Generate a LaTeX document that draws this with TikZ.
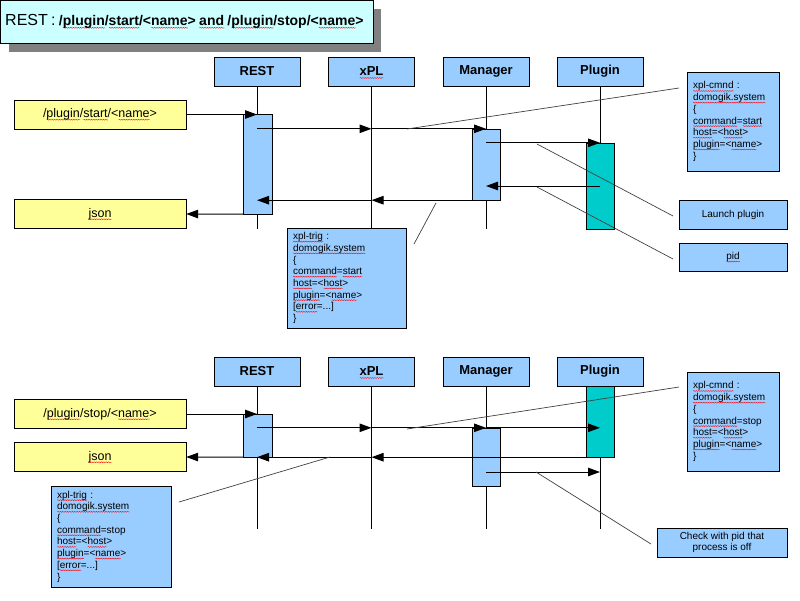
\documentclass[tikz,border=0pt]{standalone}
\usepackage{fontspec}
\setmainfont{Liberation Sans}
\usetikzlibrary{arrows.meta,decorations.pathmorphing}
\definecolor{lblue}{HTML}{99CCFF}
\definecolor{lyellow}{HTML}{FFFF99}
\definecolor{plugcyan}{HTML}{00CCCC}
\definecolor{titlecyan}{HTML}{CCFFFF}
% red spell-check wave under a word
\newsavebox\sqbox
\newlength\sqwd
\newcommand\sq[1]{\sbox\sqbox{#1}\setlength\sqwd{\wd\sqbox}\leavevmode\rlap{\raisebox{-2pt}[0pt][0pt]{\tikz[baseline=0pt]\draw[draw=red,fill=none,line width=0.4pt,decorate,decoration={snake,amplitude=0.45pt,segment length=2.4pt}] (0pt,0pt) -- (\sqwd,0pt);}}\usebox\sqbox}
\tikzset{
	head/.style={draw, fill=lblue, minimum width=86, minimum height=29, inner sep=0, font=\fontsize{13}{15}\selectfont\bfseries},
	act/.style={draw, fill=lblue, minimum width=29, inner sep=0},
	plugact/.style={draw, fill=plugcyan, minimum width=28, inner sep=0},
	call/.style={draw, fill=lyellow, minimum width=172, minimum height=29, inner sep=0, font=\fontsize{12.5}{14}\selectfont},
	note/.style={draw, fill=lblue, inner xsep=6, inner ysep=3, align=left, font=\fontsize{10}{11.7}\selectfont},
	info/.style={draw, fill=lblue, minimum width=108, minimum height=29, inner sep=0, align=center, font=\fontsize{10}{11.5}\selectfont},
	life/.style={line width=1pt},
	msg/.style={line width=1pt, -{Triangle[length=12pt,width=8.5pt]}},
	callout/.style={black!75, line width=0.7pt}
}
\begin{document}
\begin{tikzpicture}[x=1pt,y=-1pt]
		\useasboundingbox (0,0) rectangle (800,600);
		% title
		\fill[black!50] (9,9) rectangle (381,52);
		\node[draw, fill=titlecyan, anchor=north west, minimum height=43, text width=363, inner xsep=5, align=left] (title) at (0,0)
		{{\fontsize{16}{18}\selectfont REST :} {\fontsize{14}{16}\selectfont\bfseries /\sq{plugin}/\sq{start}/<\sq{name}> \sq{and} /\sq{plugin}/stop/<\sq{name}>}};
		%
		% ---------- start ----------
		\node[head] (rest1) at (257,71.5) {REST};
		\node[head] (xpl1) at (371.5,71.5) {\sq{xPL}};
		\node[head] (mgr1) at (486,71.5) {Manager};
		\node[head] (plug1) at (600,71.5) {Plugin};
		\coordinate (end1) at (0,229);
		% lifelines
		\draw[life] (rest1.south) -- (rest1 |- end1);
		\draw[life] (xpl1.south) -- (xpl1 |- end1);
		\draw[life] (mgr1.south) -- (mgr1 |- end1);
		\draw[life] (plug1.south) -- (plug1 |- end1);
		% activations
		\node[act, minimum height=100] (restact1) at (257.5,164) {};
		\node[act, minimum height=71, minimum width=28] (mgract1) at (486,164.5) {};
		\node[plugact, minimum height=86] (plugact1) at (600,186) {};
		% calls
		\node[call] (in1) at (100,114.5) {/\sq{plugin}/\sq{start}/<\sq{name}>};
		\node[call] (json1) at (100,214) {\sq{json}};
		% messages
		\draw[msg] (in1.east) -- (in1.east -| rest1);
		\draw[msg] (rest1 |- mgract1.north) -- (xpl1 |- mgract1.north);
		\draw[msg] (xpl1 |- mgract1.north) -- (mgract1.north);
		\draw[msg] (plugact1.north -| mgr1) -- (plugact1.north);
		\draw[msg] (plugact1.center) -- (plugact1 -| mgr1);
		\draw[msg] (mgract1.south west) -- (mgract1.south -| xpl1);
		\draw[msg] (mgract1.south -| xpl1) -- (mgract1.south -| rest1);
		\draw[msg] (restact1.south west) -- (json1.east);
		% notes
		\node[note, text width=80, minimum height=99] (cmnd1) at (733,121.5)
		{\sq{xpl-cmnd} :\\ \sq{domogik.system}\\ \{\\ \sq{command}=\sq{start}\\ \sq{host}=<\sq{host}>\\ \sq{plugin}=<\sq{name}>\\ \}};
		\node[note, text width=107, minimum height=100] (trig1) at (346.5,278)
		{\sq{xpl-trig} :\\ \sq{domogik.system}\\ \{\\ \sq{command}=\sq{start}\\ \sq{host}=<\sq{host}>\\ \sq{plugin}=<\sq{name}>\\ {[}\sq{error}=...]\\ \}};
		\node[info] (launch) at (733,214.5) {Launch plugin};
		\node[info, minimum height=28] (pid) at (733,257) {\sq{pid}};
		% callouts
		\draw[callout] (679,88) -- (407,129);
		\draw[callout] (673,216) -- (537,144);
		\draw[callout] (673,259) -- (537,187);
		\draw[callout] (414,244) -- (436,203);
		%
		% ---------- stop ----------
		\node[head] (rest2) at (257,371.5) {REST};
		\node[head] (xpl2) at (371.5,371.5) {\sq{xPL}};
		\node[head] (mgr2) at (486,371.5) {Manager};
		\node[head] (plug2) at (600,371.5) {Plugin};
		\coordinate (end2) at (0,529);
		% lifelines
		\draw[life] (rest2.south) -- (rest2 |- end2);
		\draw[life] (xpl2.south) -- (xpl2 |- end2);
		\draw[life] (mgr2.south) -- (mgr2 |- end2);
		\draw[life] (plug2.south) -- (plug2 |- end2);
		% activations
		\node[act, minimum height=43] (restact2) at (257.5,435.5) {};
		\node[act, minimum height=58, minimum width=28] (mgract2) at (486,457) {};
		\node[plugact, minimum height=71] (plugact2) at (600,421.5) {};
		% calls
		\node[call] (in2) at (100,414) {/\sq{plugin}/stop/<\sq{name}>};
		\node[call] (json2) at (100,457) {\sq{json}};
		\coordinate (chk2) at (486,472);
		% messages
		\draw[msg] (in2.east) -- (in2.east -| rest2);
		\draw[msg] (rest2 |- mgract2.north) -- (xpl2 |- mgract2.north);
		\draw[msg] (xpl2 |- mgract2.north) -- (mgract2.north);
		\draw[msg] (mgract2.north) -- (mgract2.north -| plug2);
		\draw[msg] (plugact2.south west) -- (plugact2.south -| xpl2);
		\draw[msg] (plugact2.south -| xpl2) -- (plugact2.south -| rest2);
		\draw[msg] (restact2.south west) -- (json2.east);
		\draw[msg] (chk2) -- (chk2 -| plug2);
		% notes
		\node[note, text width=80, minimum height=99] (cmnd2) at (733,421.5)
		{\sq{xpl-cmnd} :\\ \sq{domogik.system}\\ \{\\ \sq{command}=stop\\ \sq{host}=<\sq{host}>\\ \sq{plugin}=<\sq{name}>\\ \}};
		\node[note, text width=108, minimum height=101] (trig2) at (111,536.5)
		{\sq{xpl-trig} :\\ \sq{domogik.system}\\ \{\\ \sq{command}=stop\\ \sq{host}=<\sq{host}>\\ \sq{plugin}=<\sq{name}>\\ {[}\sq{error}=...]\\ \}};
		\node[info, minimum width=130] (check) at (722,542.5) {Check with pid that\\ process is off};
		% callouts
		\draw[callout] (679,387) -- (407,429);
		\draw[callout] (651,544) -- (536,472);
		\draw[callout] (179,502) -- (330,457);
	\end{tikzpicture}
\end{document}
